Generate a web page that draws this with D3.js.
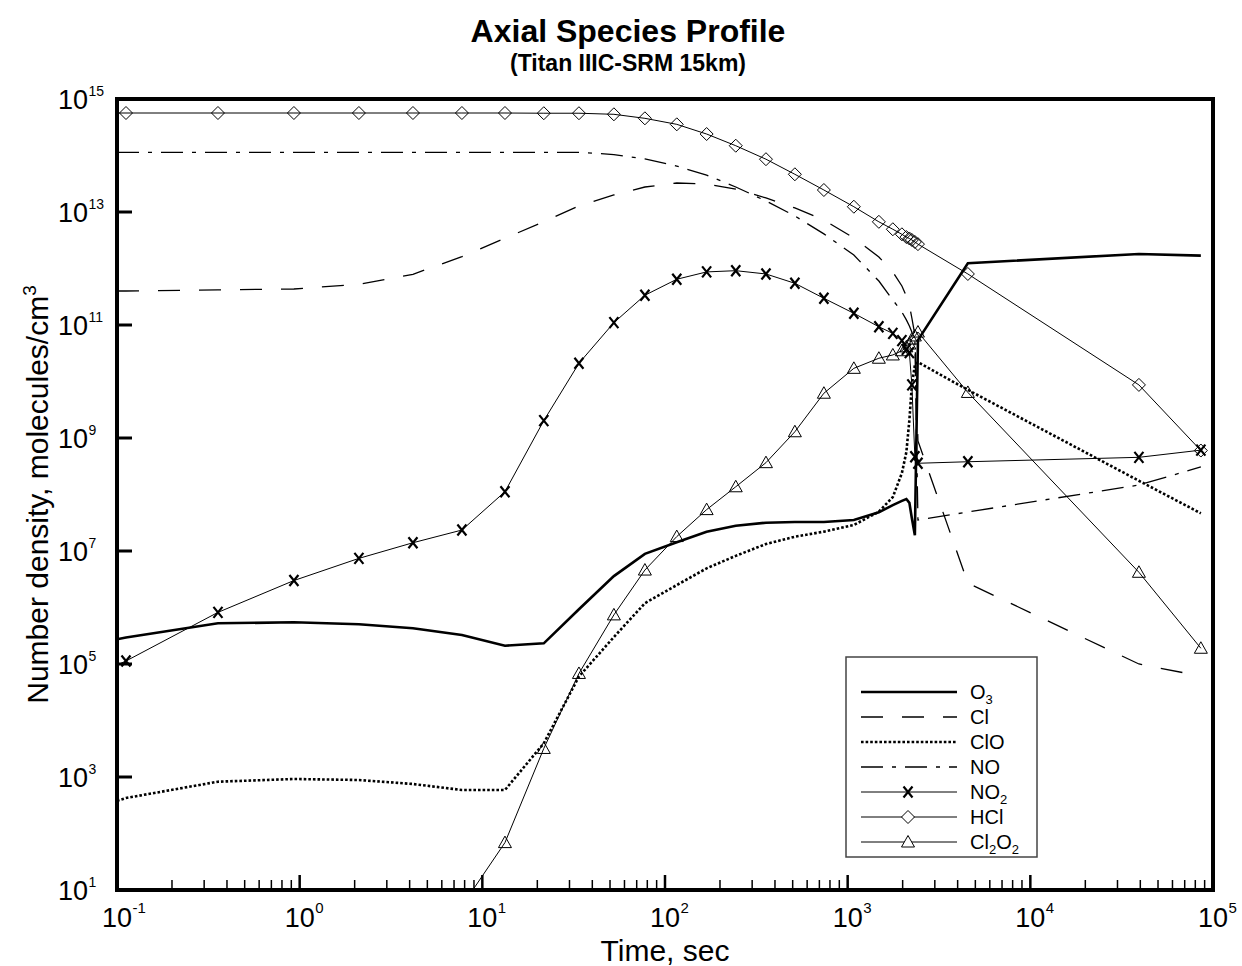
<!DOCTYPE html>
<html><head><meta charset="utf-8">
<script src="https://cdn.jsdelivr.net/npm/d3@7"></script>
<style>body{margin:0;background:#fff}svg{display:block}text{font-family:"Liberation Sans",Arial,sans-serif;fill:#000}</style>
</head><body>
<svg id="c" width="1242" height="966"></svg>
<script>
// ---- data ----
const times = [0.1, 0.112, 0.357, 0.93, 2.11, 4.17, 7.73, 13.3, 21.7, 33.8, 52.5, 77.6, 116, 169, 244, 357, 514, 741, 1081, 1482, 1767, 1981, 2096, 2177, 2246, 2333, 2425, 4550, 39300, 85800];
const O3 = [2.74e5, 2.94e5, 5.25e5, 5.47e5, 5.04e5, 4.29e5, 3.26e5, 2.11e5, 2.32e5, 9.3e5, 3.6e6, 8.9e6, 1.43e7, 2.2e7, 2.8e7, 3.17e7, 3.26e7, 3.26e7, 3.54e7, 4.84e7, 6.5e7, 7.7e7, 8.3e7, 7.1e7, 3.8e7, 1.9e7, 5.4e10, 1.24e12, 1.81e12, 1.69e12];
const Cl = [4.0e11, 4.0e11, 4.18e11, 4.34e11, 5.25e11, 7.9e11, 1.62e12, 3.43e12, 6.73e12, 1.28e13, 2.0e13, 2.77e13, 3.26e13, 3.13e13, 2.55e13, 1.77e13, 1.18e13, 7.2e12, 3.47e12, 1.6e12, 8.7e11, 4.9e11, 3.26e11, 2.26e11, 1.33e11, 6.65e10, 8.9e8, 2.7e6, 1.0e5, 6.1e4];
const ClO = [380, 425, 826, 922, 885, 752, 589, 589, 3.95e3, 6.0e4, 3.0e5, 1.19e6, 2.5e6, 4.94e6, 8.2e6, 1.33e7, 1.79e7, 2.2e7, 2.88e7, 4.97e7, 9.0e7, 2.4e8, 5.65e8, 2.08e9, 8.7e9, 1.96e10, 2.2e10, 7.1e9, 1.75e8, 4.65e7];
const NO = [1.14e14, 1.14e14, 1.14e14, 1.14e14, 1.14e14, 1.14e14, 1.14e14, 1.14e14, 1.14e14, 1.14e14, 1.04e14, 8.7e13, 6.5e13, 4.5e13, 2.77e13, 1.57e13, 8.5e12, 4.1e12, 1.73e12, 6.0e11, 2.77e11, 1.7e11, 1.23e11, 9.6e10, 7.5e10, 5.4e10, 3.54e7, 4.9e7, 1.47e8, 3.07e8];
const NO2 = [9.6e4, 1.13e5, 8.2e5, 3.0e6, 7.4e6, 1.4e7, 2.35e7, 1.12e8, 2.03e9, 2.1e10, 1.1e11, 3.36e11, 6.45e11, 8.7e11, 9.15e11, 8.0e11, 5.47e11, 2.97e11, 1.61e11, 9.3e10, 7.1e10, 5.3e10, 3.7e10, 3.24e10, 8.7e9, 4.67e8, 3.57e8, 3.8e8, 4.55e8, 6.1e8];
const HCl = [5.65e14, 5.65e14, 5.65e14, 5.65e14, 5.65e14, 5.65e14, 5.65e14, 5.65e14, 5.6e14, 5.6e14, 5.36e14, 4.55e14, 3.56e14, 2.40e14, 1.49e14, 8.6e13, 4.65e13, 2.45e13, 1.24e13, 6.7e12, 4.95e12, 4.03e12, 3.6e12, 3.4e12, 3.2e12, 2.95e12, 2.7e12, 8.0e11, 8.7e9, 6.0e8];
const Cl2O2 = [null, null, null, null, null, null, 5.2, 69, 3.2e3, 6.8e4, 7.4e5, 4.6e6, 1.8e7, 5.4e7, 1.37e8, 3.66e8, 1.29e9, 6.2e9, 1.71e10, 2.58e10, 2.95e10, 3.5e10, 4.1e10, 4.6e10, 5.65e10, 6.4e10, 7.5e10, 6.4e9, 4.2e6, 1.9e5];

const xTickExps = [-1, 0, 1, 2, 3, 4, 5];
const yTickExps = [15, 13, 11, 9, 7, 5, 3, 1];
const titleText = "Axial Species Profile";
const subtitleText = "(Titan IIIC-SRM 15km)";
const xTitle = "Time, sec";
const yTitle = "Number density, molecules/cm";

// ---- styles ----
const series = [
  {name: "O3", label: ["O", "3"], data: O3, width: 2.6, dash: null, marker: null},
  {name: "Cl", label: ["Cl"], data: Cl, width: 1.3, dash: "22,19", marker: null},
  {name: "ClO", label: ["ClO"], data: ClO, width: 2.6, dash: "2.6,2", marker: null},
  {name: "NO", label: ["NO"], data: NO, width: 1.3, dash: "22,9,4,9", marker: null},
  {name: "NO2", label: ["NO", "2"], data: NO2, width: 1, dash: null, marker: "x"},
  {name: "HCl", label: ["HCl"], data: HCl, width: 1, dash: null, marker: "diamond"},
  {name: "Cl2O2", label: ["Cl", "2", "O", "2"], data: Cl2O2, width: 1, dash: null, marker: "triangle"}
];

const L = 117, R = 1213, T = 99, B = 890;
const svg = d3.select("#c");
const x = d3.scaleLog().domain([0.1, 1e5]).range([L, R]);
const y = d3.scaleLog().domain([10, 1e15]).range([B, T]);

svg.append("defs").append("clipPath").attr("id", "clip")
  .append("rect").attr("x", L).attr("y", T).attr("width", R - L).attr("height", B - T);

function markerPath(type, cx, cy) {
  if (type === "diamond") return `M${cx},${cy-6.5}L${cx+6.5},${cy}L${cx},${cy+6.5}L${cx-6.5},${cy}Z`;
  if (type === "triangle") return `M${cx},${cy-6.5}L${cx+6.5},${cy+5}L${cx-6.5},${cy+5}Z`;
  return `M${cx-4.5},${cy-5.5}L${cx+4.5},${cy+5.5}M${cx+4.5},${cy-5.5}L${cx-4.5},${cy+5.5}`;
}

const plot = svg.append("g").attr("clip-path", "url(#clip)");
series.forEach(s => {
  const pts = times.map((t, i) => [t, s.data[i]]);
  const line = d3.line().defined(d => d[1] != null).x(d => x(d[0])).y(d => y(d[1]));
  plot.append("path").attr("d", line(pts)).attr("fill", "none").attr("stroke", "#000")
    .attr("stroke-width", s.width).attr("stroke-dasharray", s.dash);
  if (s.marker) {
    pts.slice(1).filter(d => d[1] != null && d[1] >= 10).forEach(d => {
      plot.append("path").attr("d", markerPath(s.marker, x(d[0]), y(d[1])))
        .attr("fill", "none").attr("stroke", "#000")
        .attr("stroke-width", s.marker === "x" ? 2.2 : 1);
    });
  }
});

// ---- ticks ----
const ticks = svg.append("g").attr("stroke", "#000");
for (let e = -1; e < 5; e++) {
  for (let m = 1; m < 10; m++) {
    const v = m * Math.pow(10, e);
    if (e === -1 && m === 1) continue;
    const xx = x(v);
    ticks.append("line").attr("x1", xx).attr("x2", xx).attr("y1", B).attr("y2", B - (m === 1 ? 15 : 10))
      .attr("stroke-width", m === 1 ? 2.5 : 1.5);
  }
}
yTickExps.filter(e => e !== 15 && e !== 1).forEach(e => {
  const yy = y(Math.pow(10, e));
  ticks.append("line").attr("x1", L).attr("x2", L + 15).attr("y1", yy).attr("y2", yy).attr("stroke-width", 3);
});

// frame
svg.append("rect").attr("x", L).attr("y", T).attr("width", R - L).attr("height", B - T)
  .attr("fill", "none").attr("stroke", "#000").attr("stroke-width", 4);

// tick labels
const lab = svg.append("g");
xTickExps.forEach(e => {
  const xx = x(Math.pow(10, e));
  lab.append("text").attr("x", xx).attr("y", 927).attr("text-anchor", "middle").attr("font-size", 27).text("10");
  lab.append("text").attr("x", xx + 15.5).attr("y", 913).attr("font-size", 15).text(String(e));
});
yTickExps.forEach(e => {
  const yy = y(Math.pow(10, e));
  lab.append("text").attr("x", 88).attr("y", yy + 10).attr("text-anchor", "end").attr("font-size", 27).text("10");
  lab.append("text").attr("x", 88.5).attr("y", yy - 3).attr("font-size", 14).text(String(e));
});

// titles
svg.append("text").attr("x", 628).attr("y", 42).attr("text-anchor", "middle").attr("font-size", 32)
  .attr("font-weight", "bold").text(titleText);
svg.append("text").attr("x", 628).attr("y", 71).attr("text-anchor", "middle").attr("font-size", 23)
  .attr("font-weight", "bold").text(subtitleText);
svg.append("text").attr("x", (L + R) / 2).attr("y", 961).attr("text-anchor", "middle").attr("font-size", 30).text(xTitle);
const yt = svg.append("text").attr("transform", `translate(48,${(T + B) / 2}) rotate(-90)`)
  .attr("text-anchor", "middle").attr("font-size", 30);
yt.append("tspan").text(yTitle);
yt.append("tspan").attr("dy", -12).attr("font-size", 19).text("3");

// legend
const lg = svg.append("g");
lg.append("rect").attr("x", 846).attr("y", 657).attr("width", 191).attr("height", 200)
  .attr("fill", "#fff").attr("stroke", "#444").attr("stroke-width", 1.5);
series.forEach((s, i) => {
  const yy = 692 + i * 25;
  lg.append("line").attr("x1", 861).attr("x2", 957).attr("y1", yy).attr("y2", yy)
    .attr("stroke", "#000").attr("stroke-width", s.width).attr("stroke-dasharray", s.dash);
  if (s.marker) {
    lg.append("path").attr("d", markerPath(s.marker, 908, yy)).attr("fill", s.marker === "x" ? "none" : "#fff")
      .attr("stroke", "#000").attr("stroke-width", s.marker === "x" ? 2.2 : 1);
  }
  const t = lg.append("text").attr("x", 970).attr("y", yy + 7).attr("font-size", 20);
  s.label.forEach((p, j) => {
    if (j % 2 === 1) t.append("tspan").attr("dy", 5).attr("font-size", 13).text(p);
    else t.append("tspan").attr("dy", j > 0 ? -5 : 0).text(p);
  });
});
</script>
</body></html>
